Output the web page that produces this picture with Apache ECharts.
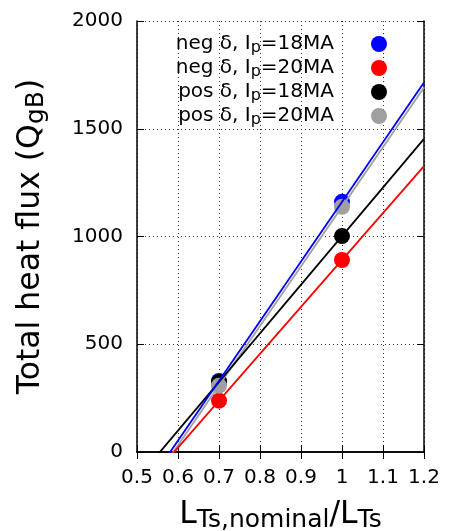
<!DOCTYPE html>
<html>
<head>
<meta charset="utf-8">
<script src="https://cdn.jsdelivr.net/npm/echarts@6/dist/echarts.min.js"></script>
<style>
  html, body { margin: 0; padding: 0; background: #fff; }
  #chart { width: 456px; height: 531px; }
</style>
</head>
<body>
<div id="chart"></div>
<script>
// x positions of the two runs
const ratio = [0.7, 1.0];
// total heat flux
const negLowIp = [330, 1161];   // neg δ, Ip=18MA
const negHighIp = [238, 891];   // neg δ, Ip=20MA
const posLowIp = [325, 1002];   // pos δ, Ip=18MA
const posHighIp = [308, 1138];  // pos δ, Ip=20MA

const seriesNames = ['neg δ, Ip=18MA', 'neg δ, Ip=20MA', 'pos δ, Ip=18MA', 'pos δ, Ip=20MA'];
const legendRich = [
  '{t|neg δ, I}{s|p}{t|=18MA}{g|}',
  '{t|neg δ, I}{s|p}{t|=20MA}{g|}',
  '{t|pos δ, I}{s|p}{t|=18MA}{g|}',
  '{t|pos δ, I}{s|p}{t|=20MA}{g|}'
];
const colors = ['#0000ff', '#ff0000', '#000000', '#a0a0a0'];
const allValues = [negLowIp, negHighIp, posLowIp, posHighIp];

const xMin = 0.5, xMax = 1.2;
const font = 'DejaVu Sans';

// straight line through the two measured points, spanning the x range
function fitLine(vals) {
  const slope = (vals[1] - vals[0]) / (ratio[1] - ratio[0]);
  return [xMin, xMax].map(x => [x, vals[0] + slope * (x - ratio[0])]);
}

const pointSeries = allValues.map((vals, i) => ({
  name: seriesNames[i],
  type: 'scatter',
  symbol: 'circle',
  symbolSize: 16,
  itemStyle: { color: colors[i], opacity: 1 },
  z: 2,
  data: ratio.map((x, j) => [x, vals[j]])
}));

const lineOrder = [3, 2, 1, 0];
const lineSeries = lineOrder.map(i => ({
  type: 'line',
  showSymbol: false,
  symbol: 'none',
  clip: true,
  lineStyle: { color: colors[i], width: 1.8 },
  z: 3,
  silent: true,
  data: fitLine(allValues[i])
}));

const gridLine = { show: true, lineStyle: { color: '#333', type: [1, 3], width: 1 } };
const axisLine = { show: true, lineStyle: { color: '#000', width: 1.5 } };
const tick = { show: true, inside: true, length: 7, lineStyle: { color: '#000', width: 1 } };

const titleRich = {
  t: { fontFamily: font, fontSize: 31.5, color: '#000', lineHeight: 36 },
  s: { fontFamily: font, fontSize: 25, color: '#000', lineHeight: 20, verticalAlign: 'bottom' }
};

const chart = echarts.init(document.getElementById('chart'));
chart.setOption({
  animation: false,
  backgroundColor: '#fff',
  grid: { left: 137, right: 32, top: 21, bottom: 79, containLabel: false, outerBoundsMode: 'none' },
  legend: {
    orient: 'vertical',
    right: 64,
    top: 29,
    align: 'right',
    itemGap: 2,
    itemWidth: 16,
    itemHeight: 16,
    icon: 'circle',
    data: seriesNames,
    formatter: name => legendRich[seriesNames.indexOf(name)],
    textStyle: {
      rich: {
        t: { fontFamily: font, fontSize: 20, color: '#000', lineHeight: 24 },
        s: { fontFamily: font, fontSize: 16, color: '#000', lineHeight: 12, verticalAlign: 'bottom' },
        g: { width: 32 }
      }
    }
  },
  xAxis: [{
    type: 'value',
    min: xMin,
    max: xMax,
    interval: 0.1,
    position: 'bottom',
    axisLine: axisLine,
    axisTick: tick,
    splitLine: gridLine,
    axisLabel: { fontFamily: font, fontSize: 20, color: '#000', margin: 16 },
    name: '{t|L}{s|Ts,nominal}{t|/L}{s|Ts}',
    nameLocation: 'middle',
    nameGap: 45,
    nameTextStyle: { rich: titleRich }
  }, {
    type: 'value',
    min: xMin,
    max: xMax,
    interval: 0.1,
    position: 'top',
    axisLine: axisLine,
    axisTick: tick,
    axisLabel: { show: false },
    splitLine: { show: false }
  }],
  yAxis: [{
    type: 'value',
    min: 0,
    max: 2000,
    interval: 500,
    position: 'left',
    axisLine: axisLine,
    axisTick: tick,
    splitLine: gridLine,
    axisLabel: { fontFamily: font, fontSize: 20, color: '#000', margin: 14, formatter: v => String(v) },
    name: '{t|Total heat flux (Q}{s|gB}{t|)}',
    nameLocation: 'middle',
    nameRotate: 90,
    nameGap: 88,
    nameTextStyle: { rich: titleRich }
  }, {
    type: 'value',
    min: 0,
    max: 2000,
    interval: 500,
    position: 'right',
    axisLine: axisLine,
    axisTick: tick,
    axisLabel: { show: false },
    splitLine: { show: false }
  }],
  series: pointSeries.concat(lineSeries)
});
</script>
</body>
</html>
